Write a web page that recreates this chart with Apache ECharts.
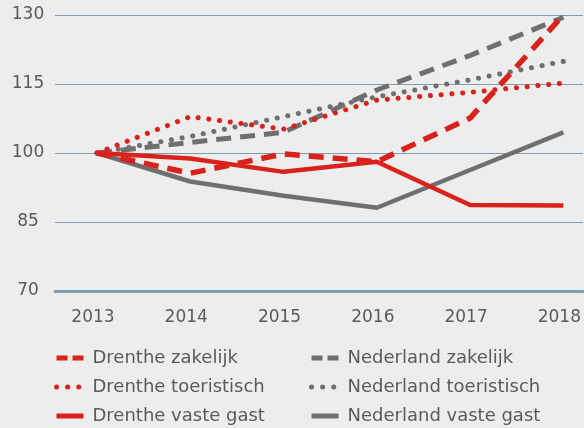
<!DOCTYPE html>
<html>
<head>
<meta charset="utf-8">
<script src="https://cdn.jsdelivr.net/npm/echarts@6/dist/echarts.min.js"></script>
<style>
html,body{margin:0;padding:0;background:#ededed;}
#chart{width:584px;height:428px;}
</style>
</head>
<body>
<div id="chart"></div>
<script>
const years = [2013, 2014, 2015, 2016, 2017, 2018];
const yTicks = [70, 85, 100, 115, 130];
const drentheZakelijk = [100, 95.6, 99.8, 98.1, 107.6, 130];
const drentheToeristisch = [100, 107.9, 105.2, 111.5, 113.2, 115.2];
const drentheVasteGast = [100, 98.8, 95.9, 98.1, 88.7, 88.6];
const nederlandZakelijk = [100, 102.3, 104.5, 113.7, 121.2, 129.5];
const nederlandToeristisch = [100, 103.6, 107.9, 112.2, 115.9, 119.9];
const nederlandVasteGast = [100, 93.8, 90.7, 88.1, 96.3, 104.5];

const RED = '#d9221c';
const GRAY = '#6f6f6f';
const TEXT = '#5a5a5a';
const GRID = '#7f9cb0';
const FONT = 'DejaVu Sans';

const DASH = [15, 9];
const DOT = [0.1, 10.7];

function pts(vals) { return years.map((y, i) => [y, vals[i]]); }
function line(name, vals, color, type, width) {
  return {
    name: name, type: 'line', data: pts(vals), symbol: 'none', silent: true,
    animation: false,
    lineStyle: { color: color, width: width, type: type, cap: type === DOT ? 'round' : 'butt', join: 'round' },
    itemStyle: { color: color }
  };
}

const legendCommon = {
  orient: 'vertical', top: 349, height: 79, padding: 0,
  itemWidth: 27, itemHeight: 14, itemGap: 11,
  selectedMode: false,
  itemStyle: { opacity: 0 },
  textStyle: { fontSize: 18, lineHeight: 18, color: TEXT, fontFamily: FONT, padding: [0, 0, 0, 4] }
};

const chart = echarts.init(document.getElementById('chart'), null, { renderer: 'canvas' });
chart.setOption({
  backgroundColor: '#ededed',
  animation: false,
  grid: { left: 55, right: 0, top: 15, bottom: 137 },
  xAxis: {
    type: 'value', min: 2012.55, max: 2018.21,
    axisLine: { show: true, lineStyle: { color: GRID, width: 3 } },
    axisTick: { show: false },
    splitLine: { show: false },
    axisLabel: {
      customValues: years, formatter: v => String(v),
      color: TEXT, fontSize: 17, fontFamily: FONT, margin: 18, padding: [0, 8, 0, 0]
    }
  },
  yAxis: {
    type: 'value', min: yTicks[0], max: yTicks[yTicks.length - 1], interval: 15,
    axisLine: { show: false }, axisTick: { show: false },
    splitLine: { show: true, lineStyle: { color: GRID, width: 1 } },
    axisLabel: { color: TEXT, fontSize: 17, fontFamily: FONT, align: 'center', margin: 27 }
  },
  legend: [
    Object.assign({}, legendCommon, {
      left: 54,
      data: [
        { name: 'Drenthe zakelijk', lineStyle: { type: [11, 5], width: 5 } },
        { name: 'Drenthe toeristisch', lineStyle: { type: [0.1, 11], width: 5, cap: 'round' } },
        { name: 'Drenthe vaste gast', lineStyle: { width: 5 } }
      ]
    }),
    Object.assign({}, legendCommon, {
      left: 309,
      data: [
        { name: 'Nederland zakelijk', lineStyle: { type: [11, 5], width: 5 } },
        { name: 'Nederland toeristisch', lineStyle: { type: [0.1, 11], width: 5, cap: 'round' } },
        { name: 'Nederland vaste gast', lineStyle: { width: 5 } }
      ]
    })
  ],
  series: [
    line('Nederland vaste gast', nederlandVasteGast, GRAY, 'solid', 4.5),
    line('Nederland toeristisch', nederlandToeristisch, GRAY, DOT, 5),
    line('Nederland zakelijk', nederlandZakelijk, GRAY, DASH, 5),
    line('Drenthe vaste gast', drentheVasteGast, RED, 'solid', 4.5),
    line('Drenthe toeristisch', drentheToeristisch, RED, DOT, 5),
    line('Drenthe zakelijk', drentheZakelijk, RED, DASH, 5.5)
  ]
});
</script>
</body>
</html>
